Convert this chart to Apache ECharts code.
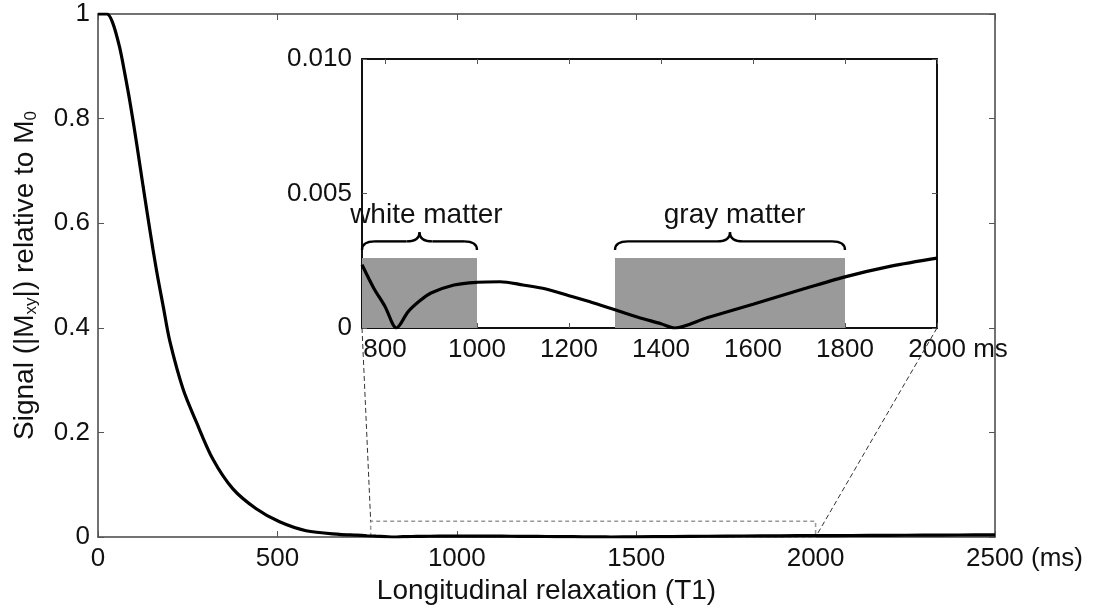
<!DOCTYPE html>
<html><head><meta charset="utf-8">
<script src="https://cdn.jsdelivr.net/npm/echarts@6/dist/echarts.min.js"></script>
<style>html,body{margin:0;padding:0;background:#fff}#c{width:1103px;height:615px}</style>
</head><body><div id="c"></div>
<script>
// ---- data ----
const mainT1 = [0, 25, 40, 60, 75, 90, 108, 126, 145, 163, 182, 200, 237, 274, 320, 376, 441, 506, 580, 673, 720];
const mainSig = [1.0, 1.0, 0.985, 0.937, 0.885, 0.828, 0.751, 0.669, 0.585, 0.51, 0.44, 0.375, 0.283, 0.22, 0.149, 0.092, 0.054, 0.029, 0.012, 0.005, 0.0035];
const insetT1 = [750, 775, 800, 825, 850, 875, 900, 950, 1000, 1050, 1100, 1150, 1200, 1250, 1300, 1350, 1400, 1430, 1500, 1600, 1700, 1800, 1900, 2000];
const insetSig = [0.00235, 0.0015, 0.0008, 0.0, 0.0006, 0.001, 0.0013, 0.0016, 0.0017, 0.00172, 0.0016, 0.00145, 0.0012, 0.00095, 0.00068, 0.0004, 0.00016, 0.0, 0.00038, 0.00088, 0.0014, 0.0019, 0.0023, 0.0026];
const tailT1 = [2100, 2200, 2300, 2400, 2500];
const tailSig = [0.0029, 0.0032, 0.0035, 0.0038, 0.0041];
const mainXTicks = [0, 500, 1000, 1500, 2000, 2500];
const mainYTicks = [0, 0.2, 0.4, 0.6, 0.8, 1];
const insetXTicks = [800, 1000, 1200, 1400, 1600, 1800, 2000];
const insetYTicks = [0, 0.005, 0.01];
const regionNames = ['white matter', 'gray matter'];
const regionStart = [750, 1300];
const regionEnd = [1000, 1800];
const regionTop = 0.0026;
const regionLabelT1 = [890, 1560];
const zoomBox = {x0: 760, x1: 2000, y0: 0, y1: 0.03};
const insetRange = {x0: 750, x1: 2000, y0: 0, y1: 0.01};

const FONT = "'Liberation Sans', Arial, sans-serif";
const mainData = mainT1.map((t, i) => [t, mainSig[i]])
  .concat(insetT1.map((t, i) => [t, insetSig[i]]))
  .concat(tailT1.map((t, i) => [t, tailSig[i]]));
const insetData = insetT1.map((t, i) => [t, insetSig[i]]);

const chart = echarts.init(document.getElementById('c'));
const mainLine = {show: true, onZero: false, lineStyle: {color: '#444', width: 1.5}};
const insetLine = {show: true, onZero: false, lineStyle: {color: '#111', width: 2}};
const mainTick = {show: true, inside: true, length: 6, lineStyle: {color: '#555'}};
const lbl = {fontSize: 26, color: '#111', fontFamily: FONT};

chart.setOption({
  animation: false,
  backgroundColor: '#fff',
  textStyle: {fontFamily: FONT},
  grid: [
    {left: 98, top: 14, width: 897, height: 523, containLabel: false},
    {left: 362, top: 59, width: 575, height: 269, show: true, backgroundColor: '#fff', borderWidth: 0}
  ],
  xAxis: [
    {gridIndex: 0, type: 'value', min: 0, max: 2500, interval: 500,
     axisLine: mainLine, splitLine: {show: false}, axisTick: mainTick,
     axisLabel: Object.assign({}, lbl, {margin: 9,
       formatter: v => v === 2500 ? '{p| }2500 (ms)' : String(v),
       rich: {p: {width: 59}}}),
     name: 'Longitudinal relaxation (T1)', nameLocation: 'middle', nameGap: 40,
     nameTextStyle: {fontSize: 28, color: '#111', fontFamily: FONT}},
    {gridIndex: 0, type: 'value', position: 'top', min: 0, max: 2500, interval: 500,
     axisLine: mainLine, splitLine: {show: false}, axisLabel: {show: false}, axisTick: mainTick},
    {gridIndex: 1, type: 'value', min: insetRange.x0, max: insetRange.x1,
     axisLine: insetLine, splitLine: {show: false},
     axisTick: {show: true, inside: true, length: 5, customValues: insetXTicks, lineStyle: {color: '#555'}},
     axisLabel: Object.assign({}, lbl, {margin: 9, customValues: insetXTicks,
       formatter: v => v === 2000 ? '{p| }2000 ms' : String(v),
       rich: {p: {width: 42}}})},
    {gridIndex: 1, type: 'value', position: 'top', min: insetRange.x0, max: insetRange.x1,
     axisLine: insetLine, splitLine: {show: false}, axisLabel: {show: false},
     axisTick: {show: true, inside: true, length: 5, customValues: insetXTicks, lineStyle: {color: '#555'}}}
  ],
  yAxis: [
    {gridIndex: 0, type: 'value', min: 0, max: 1, interval: 0.2,
     axisLine: mainLine, splitLine: {show: false}, axisTick: mainTick,
     axisLabel: Object.assign({}, lbl, {margin: 8,
       formatter: v => (v === 0 || v === 1) ? String(v) : v.toFixed(1)}),
     name: 'Signal (|M{s|xy}|) relative to M{s|0}', nameLocation: 'middle', nameGap: 58,
     nameTextStyle: {fontSize: 28, color: '#111', fontFamily: FONT, lineHeight: 30,
       rich: {s: {fontSize: 17, fontFamily: FONT, color: '#111', verticalAlign: 'bottom', lineHeight: 22}}}},
    {gridIndex: 0, type: 'value', position: 'right', min: 0, max: 1, interval: 0.2,
     axisLine: mainLine, splitLine: {show: false}, axisLabel: {show: false}, axisTick: mainTick},
    {gridIndex: 1, type: 'value', min: 0, max: 0.01, interval: 0.005,
     axisLine: insetLine, splitLine: {show: false},
     axisTick: {show: true, inside: true, length: 5, lineStyle: {color: '#555'}},
     axisLabel: Object.assign({}, lbl, {margin: 10,
       formatter: v => v === 0 ? '0' : v.toFixed(3)})},
    {gridIndex: 1, type: 'value', position: 'right', min: 0, max: 0.01, interval: 0.005,
     axisLine: insetLine, splitLine: {show: false}, axisLabel: {show: false},
     axisTick: {show: true, inside: true, length: 5, lineStyle: {color: '#555'}}}
  ],
  series: [
    {type: 'line', xAxisIndex: 0, yAxisIndex: 0, data: mainData, showSymbol: false,
     smooth: 0.3, lineStyle: {color: '#000', width: 3.2},
     markArea: {silent: true, itemStyle: {color: 'rgba(0,0,0,0)', borderColor: '#999', borderWidth: 1.5, borderType: [4, 3]},
       data: [[{xAxis: zoomBox.x0, yAxis: zoomBox.y0}, {xAxis: zoomBox.x1, yAxis: zoomBox.y1}]]}},
    {type: 'line', xAxisIndex: 2, yAxisIndex: 2, data: insetData, showSymbol: false, z: 6,
     smooth: 0.3, lineStyle: {color: '#000', width: 3.2},
     markArea: {silent: true, z: 3, itemStyle: {color: '#9a9a9a', opacity: 1},
       data: regionStart.map((s, i) => [{xAxis: s, yAxis: 0}, {xAxis: regionEnd[i], yAxis: regionTop}])}}
  ]
});

// ---- annotations positioned through the axes ----
const P0 = p => chart.convertToPixel({xAxisIndex: 0, yAxisIndex: 0}, p);
const P1 = p => chart.convertToPixel({xAxisIndex: 2, yAxisIndex: 2}, p);
const graphics = [];
const dash = {stroke: '#333', lineWidth: 1, lineDash: [5, 3]};
const a1 = P1([insetRange.x0, insetRange.y0]), b1 = P0([zoomBox.x0, zoomBox.y1]);
const a2 = P1([insetRange.x1, insetRange.y0]), b2 = P0([zoomBox.x1, zoomBox.y0]);
[[a1, b1], [a2, b2]].forEach(([a, b]) => graphics.push({
  type: 'line', z: 1, silent: true,
  shape: {x1: a[0], y1: a[1], x2: b[0], y2: b[1]}, style: dash
}));
const braceStyle = {fill: null, stroke: '#000', lineWidth: 2.4};
regionStart.forEach((s, i) => {
  const e = regionEnd[i];
  const m = (s + e) / 2;
  const pL = P1([s, 0.0029]), pR = P1([e, 0.0029]);
  const yF = P1([s, 0.00322])[1], yT = P1([s, 0.00356])[1];
  const xm = P1([m, 0])[0];
  const r = 13, x1 = pL[0], x2 = pR[0], yE = pL[1];
  const segs = [
    {type: 'bezierCurve', shape: {x1: x1, y1: yE, cpx1: x1, cpy1: yF, x2: x1 + r, y2: yF}},
    {type: 'line', shape: {x1: x1 + r, y1: yF, x2: xm - r, y2: yF}},
    {type: 'bezierCurve', shape: {x1: xm - r, y1: yF, cpx1: xm, cpy1: yF, x2: xm, y2: yT}},
    {type: 'bezierCurve', shape: {x1: xm, y1: yT, cpx1: xm, cpy1: yF, x2: xm + r, y2: yF}},
    {type: 'line', shape: {x1: xm + r, y1: yF, x2: x2 - r, y2: yF}},
    {type: 'bezierCurve', shape: {x1: x2 - r, y1: yF, cpx1: x2, cpy1: yF, x2: x2, y2: yE}}
  ];
  segs.forEach(sg => graphics.push(Object.assign(sg, {z: 10, silent: true, style: braceStyle})));
  const lp = P1([regionLabelT1[i], 0.0042]);
  graphics.push({type: 'text', z: 10, silent: true, x: lp[0], y: lp[1],
    style: {text: regionNames[i], fontSize: 28, fontFamily: FONT, fill: '#111', align: 'center', verticalAlign: 'middle'}});
});
chart.setOption({graphic: graphics});
</script>
</body></html>
